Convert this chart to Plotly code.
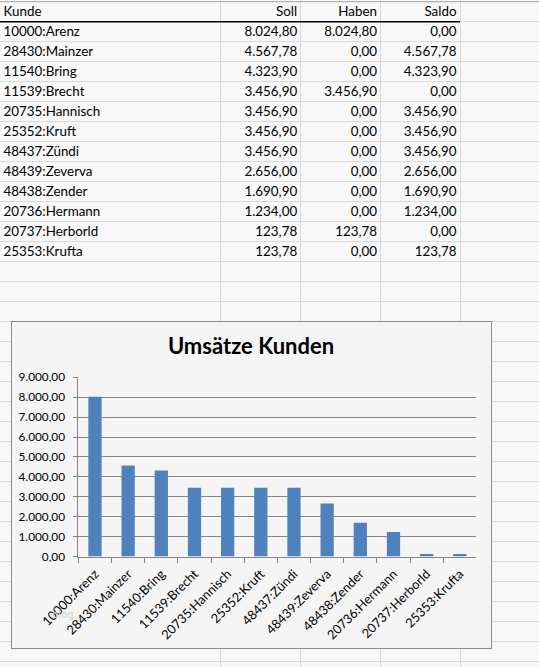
import plotly.graph_objects as go

# ---------------- data ----------------
kunden = ["10000:Arenz", "28430:Mainzer", "11540:Bring", "11539:Brecht",
          "20735:Hannisch", "25352:Kruft", "48437:Zündi", "48439:Zeverva",
          "48438:Zender", "20736:Hermann", "20737:Herborld", "25353:Krufta"]
soll = [8024.80, 4567.78, 4323.90, 3456.90, 3456.90, 3456.90, 3456.90,
        2656.00, 1690.90, 1234.00, 123.78, 123.78]
haben = [8024.80, 0.00, 0.00, 3456.90, 0.00, 0.00, 0.00,
         0.00, 0.00, 0.00, 123.78, 0.00]
saldo = [0.00, 4567.78, 4323.90, 0.00, 3456.90, 3456.90, 3456.90,
         2656.00, 1690.90, 1234.00, 0.00, 123.78]
header = ["Kunde", "Soll", "Haben", "Saldo"]
chart_title = "Umsätze Kunden"
watermark = "blog"

# ---------------- layout constants ----------------
W, H = 539, 667
ROW_PX = 20.0
ROW0_PX = 1.7
COL_EDGES = [220.5, 300.7, 380.5, 460.0]
PAD = 3.5
TEXT_DY = 0.57  # vertical position of text within a row (row units)
SHEET_BG = "#f8f8f8"
CHART_BG = "#f5f5f5"
GRID = "#d9d9d9"
AXIS_GRAY = "#868686"
TXT_FONT = dict(family="Lato", size=13.4, color="#000000")
n_rows_total = int((H - ROW0_PX) // ROW_PX) + 1


def de(v):
    return f"{v:,.2f}".replace(",", "X").replace(".", ",").replace("X", ".")


def ypx(px):
    return (H - px) / H


fig = go.Figure()

# ---------- spreadsheet (subplot x/y) ----------
row_centers = [i + 1 + TEXT_DY for i in range(len(kunden))]
fig.add_trace(go.Scatter(x=[PAD] * len(kunden), y=row_centers, text=kunden,
                         mode="text", textposition="middle right",
                         textfont=TXT_FONT, hoverinfo="skip", showlegend=False))
for ci, col in enumerate([soll, haben, saldo], start=1):
    fig.add_trace(go.Scatter(x=[COL_EDGES[ci] - PAD] * len(col), y=row_centers,
                             text=[de(v) for v in col], mode="text",
                             textposition="middle left", textfont=TXT_FONT,
                             hoverinfo="skip", showlegend=False))
hx = [PAD] + [COL_EDGES[i] - PAD for i in range(1, 4)]
fig.add_trace(go.Scatter(x=hx[:1], y=[TEXT_DY], text=header[:1], mode="text",
                         textposition="middle right", textfont=TXT_FONT,
                         hoverinfo="skip", showlegend=False))
fig.add_trace(go.Scatter(x=hx[1:], y=[TEXT_DY] * 3, text=header[1:], mode="text",
                         textposition="middle left", textfont=TXT_FONT,
                         hoverinfo="skip", showlegend=False))

# ---------- chart frame (subplot x2/y2) ----------
fig.add_trace(go.Scatter(x=[], y=[], xaxis="x2", yaxis="y2",
                         hoverinfo="skip", showlegend=False))
fig.add_shape(type="rect", xref="x2", yref="y2", x0=0, x1=1, y0=0, y1=1,
              fillcolor=CHART_BG, line=dict(width=0), layer="below")

# ---------- bar chart (subplot x3/y3) ----------
fig.add_trace(go.Bar(x=kunden, y=soll, xaxis="x3", yaxis="y3",
                     marker=dict(color="#4f81bd", line=dict(width=0)),
                     showlegend=False))

# header underline and top border
fig.add_shape(type="line", xref="x", yref="y", x0=0, x1=COL_EDGES[3], y0=1, y1=1,
              line=dict(color="#000000", width=1.5), layer="above")
fig.add_shape(type="line", xref="x", yref="y", x0=0, x1=W, y0=0, y1=0,
              line=dict(color="#a8a8a8", width=1), layer="above")

fig.update_layout(
    width=W, height=H, autosize=False,
    margin=dict(l=0, r=0, t=0, b=0, pad=0, autoexpand=False),
    paper_bgcolor=SHEET_BG, plot_bgcolor="rgba(0,0,0,0)",
    separators=",.",
    bargap=0.6,
    xaxis=dict(domain=[0, 1], range=[0, W], tickvals=COL_EDGES, showgrid=True,
               gridcolor=GRID, gridwidth=1, showticklabels=False, ticks="",
               zeroline=False, showline=False, fixedrange=True, automargin=False),
    yaxis=dict(domain=[0, 1], range=[(H - ROW0_PX) / ROW_PX, -ROW0_PX / ROW_PX],
               tickvals=list(range(0, n_rows_total)), showgrid=True,
               gridcolor=GRID, gridwidth=1, showticklabels=False, ticks="",
               zeroline=False, showline=False, fixedrange=True, automargin=False),
    xaxis2=dict(domain=[12 / W, 491 / W], range=[0, 1], anchor="y2",
                showline=True, mirror=True, linecolor="#8c8c8c", linewidth=1,
                showgrid=False, zeroline=False, showticklabels=False, ticks="",
                automargin=False),
    yaxis2=dict(domain=[ypx(648), ypx(321.7)], range=[0, 1], anchor="x2",
                showline=True, mirror=True, linecolor="#8c8c8c", linewidth=1,
                showgrid=False, zeroline=False, showticklabels=False, ticks="",
                automargin=False),
    xaxis3=dict(domain=[78.4 / W, 476.4 / W], anchor="y3", type="category",
                tickangle=-45, tickfont=dict(family="Lato", size=12.8, color="#000"),
                ticks="outside", tickson="boundaries", ticklen=5, tickcolor=AXIS_GRAY,
                ticklabelstandoff=4,
                showline=True, linecolor=AXIS_GRAY, linewidth=1, showgrid=False,
                zeroline=False, automargin=False),
    yaxis3=dict(domain=[ypx(556.5), ypx(377.3)], anchor="x3", range=[0, 9000],
                dtick=1000, tick0=0, tickformat=",.2f",
                tickfont=dict(family="Lato", size=11.8, color="#000"),
                showgrid=True, gridcolor=AXIS_GRAY, gridwidth=1,
                showline=True, linecolor=AXIS_GRAY, linewidth=1,
                ticks="outside", ticklen=4, tickcolor=AXIS_GRAY,
                ticklabelstandoff=6, zeroline=False, automargin=False),
    title=dict(text=chart_title, x=251 / W, y=ypx(346.7), xref="paper", yref="paper",
               xanchor="center", yanchor="middle", automargin=False,
               font=dict(family="Lato", size=22, color="#000", weight="bold")),
    annotations=[dict(text=watermark, x=50 / W, y=ypx(622), xref="paper", yref="paper",
                      showarrow=False, font=dict(family="DejaVu Sans", size=10, color="#d0d0d0"))],
)

fig.write_html("out.html", config={"displayModeBar": False},
               post_script="document.body.style.margin='0';document.body.style.overflow='hidden';")
